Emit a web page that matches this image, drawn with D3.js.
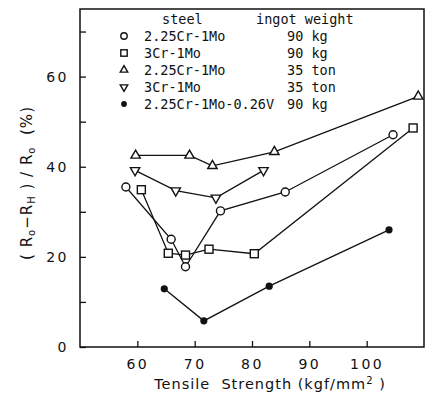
<!DOCTYPE html>
<html>
<head>
<meta charset="utf-8">
<script src="https://cdn.jsdelivr.net/npm/d3@7"></script>
<style>
  body { margin: 0; background: #fff; }
  svg { display: block; }
  .tick text { font-family: "DejaVu Sans", sans-serif; font-size: 14px; letter-spacing: 2.5px; fill: #111; }
  .tick line { stroke: #111; stroke-width: 1.3; }
  .legend text { font-family: "DejaVu Sans Mono", monospace; font-size: 13.5px; fill: #111; }
</style>
</head>
<body>
<div id="chart"></div>
<script>
// (Ro-RH)/Ro vs tensile strength
var circ90_x = [58.0, 65.9, 68.4, 74.5, 85.8, 104.6];
var circ90_y = [35.5, 23.9, 17.8, 30.2, 34.4, 47.1];

var sq90_x = [60.7, 65.4, 68.4, 72.5, 80.4, 108.1];
var sq90_y = [34.9, 20.8, 20.4, 21.7, 20.7, 48.6];

var tri35_x = [59.7, 69.1, 73.1, 83.9, 109.0];
var tri35_y = [42.5, 42.5, 40.2, 43.3, 55.6];

var tridn35_x = [59.6, 66.7, 73.7, 82.0];
var tridn35_y = [39.2, 34.7, 33.1, 39.2];

var vanad_x = [64.7, 71.6, 83.0, 103.9];
var vanad_y = [12.9, 5.8, 13.5, 26.0];

var steels  = ["2.25Cr-1Mo", "3Cr-1Mo", "2.25Cr-1Mo", "3Cr-1Mo", "2.25Cr-1Mo-0.26V"];
var weights = ["90 kg", "90 kg", "35 ton", "35 ton", "90 kg"];

var xTicks = [60, 70, 80, 90, 100];
var yTicks = [0, 10, 20, 30, 40, 50, 60, 70];
var yLabeled = [0, 20, 40, 60];

var series = [
  { xs: circ90_x,  ys: circ90_y,  mark: "circle" },
  { xs: sq90_x,    ys: sq90_y,    mark: "square" },
  { xs: tri35_x,   ys: tri35_y,   mark: "up" },
  { xs: tridn35_x, ys: tridn35_y, mark: "down" },
  { xs: vanad_x,   ys: vanad_y,   mark: "dot" }
];

var W = 429, H = 396;
var margin = { left: 80, right: 5, top: 9, bottom: 49 };

var svg = d3.select("#chart").append("svg")
  .attr("width", W).attr("height", H);

var x = d3.scaleLinear().domain([50, 110]).range([margin.left, W - margin.right]);
var y = d3.scaleLinear().domain([0, 75]).range([H - margin.bottom, margin.top]);

// axes
var xAxis = svg.append("g")
  .attr("transform", "translate(0," + (H - margin.bottom) + ")")
  .call(d3.axisBottom(x).tickValues(xTicks).tickSizeInner(-6).tickSizeOuter(0).tickPadding(12));
xAxis.select(".domain").remove();

var yAxis = svg.append("g")
  .attr("transform", "translate(" + margin.left + ",0)")
  .call(d3.axisLeft(y).tickValues(yTicks).tickSizeInner(-6).tickSizeOuter(0).tickPadding(11)
    .tickFormat(function(d) { return yLabeled.indexOf(d) >= 0 ? d : ""; }));
yAxis.select(".domain").remove();

svg.append("rect")
  .attr("x", x(50)).attr("y", y(75))
  .attr("width", x(110) - x(50)).attr("height", y(0) - y(75))
  .attr("fill", "none").attr("stroke", "#111").attr("stroke-width", 1.5);

// markers
function drawMark(g, kind, cx, cy, k) {
  k = k || 1;
  if (kind == "circle") {
    g.append("circle").attr("cx", cx).attr("cy", cy).attr("r", 4 * k)
      .attr("fill", "#fff").attr("stroke", "#111").attr("stroke-width", 1.4);
  } else if (kind == "dot") {
    g.append("circle").attr("cx", cx).attr("cy", cy).attr("r", 3.6 * k).attr("fill", "#111");
  } else if (kind == "square") {
    g.append("rect").attr("x", cx - 4 * k).attr("y", cy - 4 * k).attr("width", 8 * k).attr("height", 8 * k)
      .attr("fill", "#fff").attr("stroke", "#111").attr("stroke-width", 1.4);
  } else {
    var t = d3.symbol().type(d3.symbolTriangle).size(38 * k * k);
    g.append("path").attr("d", t())
      .attr("transform", "translate(" + cx + "," + cy + ")" + (kind == "down" ? " rotate(180)" : ""))
      .attr("fill", "#fff").attr("stroke", "#111").attr("stroke-width", 1.4);
  }
}

var line = d3.line()
  .x(function(d) { return x(d[0]); })
  .y(function(d) { return y(d[1]); });

series.forEach(function(s) {
  var pts = s.xs.map(function(v, i) { return [v, s.ys[i]]; });
  svg.append("path").datum(pts).attr("d", line)
    .attr("fill", "none").attr("stroke", "#111").attr("stroke-width", 1.3);
});
series.forEach(function(s) {
  var g = svg.append("g");
  s.xs.forEach(function(v, i) { drawMark(g, s.mark, x(v), y(s.ys[i])); });
});

// legend
var leg = svg.append("g").attr("class", "legend");
leg.append("text").attr("x", 162).attr("y", 24).text("steel");
leg.append("text").attr("x", 256).attr("y", 24).text("ingot weight");
var kinds = ["circle", "square", "up", "down", "dot"];
steels.forEach(function(s, i) {
  var ry = 36 + i * 17;
  var g = leg.append("g");
  drawMark(g, kinds[i], 124, ry, 0.8);
  leg.append("text").attr("x", 144).attr("y", ry + 4.5).text(s);
  leg.append("text").attr("x", 287).attr("y", ry + 4.5).text(weights[i]);
});

// axis titles
svg.append("text")
  .attr("x", 270).attr("y", 389)
  .attr("text-anchor", "middle")
  .style("font-family", "DejaVu Sans, sans-serif").style("font-size", "14.5px")
  .style("letter-spacing", "1px").attr("fill", "#111")
  .html('Tensile&#160;&#160;Strength (kgf/mm<tspan dy="-5" font-size="10">2</tspan><tspan dy="5"> )</tspan>');

var yl = svg.append("text")
  .attr("transform", "translate(32,183) rotate(-90)")
  .attr("text-anchor", "middle")
  .style("font-family", "DejaVu Sans, sans-serif").style("font-size", "15px")
  .style("letter-spacing", "1px").attr("fill", "#111");
yl.html('( R<tspan dy="3" font-size="10">o</tspan><tspan dy="-3">−R</tspan><tspan dy="3" font-size="10">H</tspan><tspan dy="-3"> ) / R</tspan><tspan dy="3" font-size="10">o</tspan><tspan dy="-3">&#160;&#160;(%)</tspan>');
</script>
</body>
</html>
